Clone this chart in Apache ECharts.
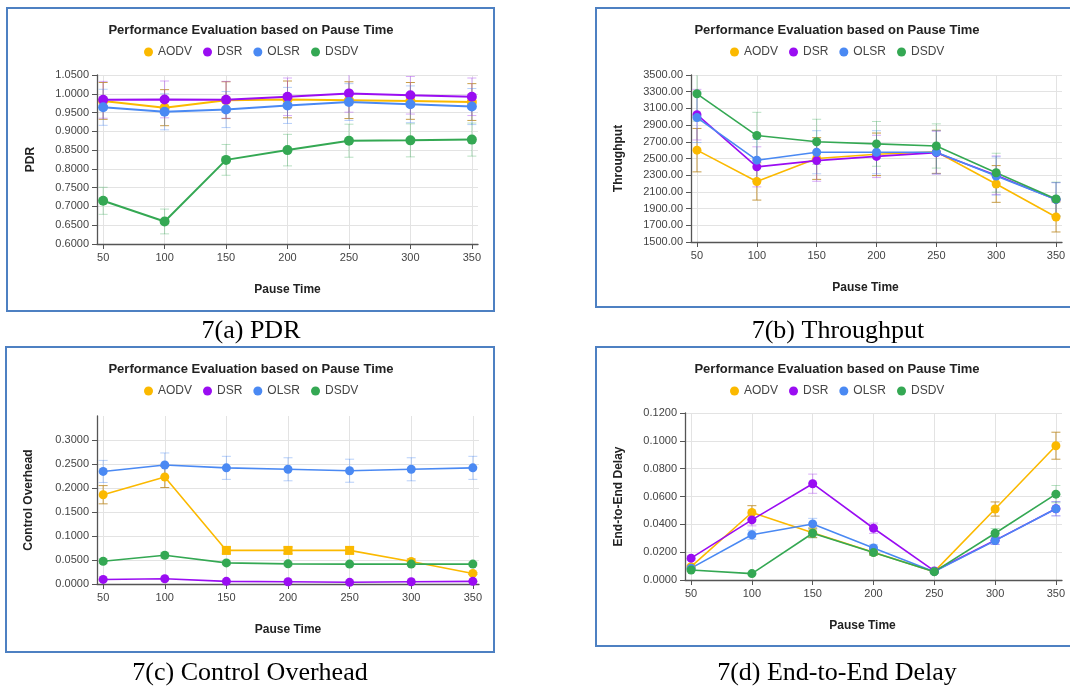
<!DOCTYPE html>
<html>
<head>
<meta charset="utf-8">
<script src="https://cdn.jsdelivr.net/npm/echarts@6/dist/echarts.min.js"></script>
<style>
html,body{margin:0;padding:0;background:#fff;}
#c{width:1070px;height:686px;}
</style>
</head>
<body>
<div id="c"></div>
<script>
// ---------------- DATA ----------------
const pauseTimes = [50, 100, 150, 200, 250, 300, 350];
const protocols = ['AODV', 'DSR', 'OLSR', 'DSDV'];

// 7(a) PDR
const pdrAODV = [0.981, 0.963, 0.983, 0.985, 0.983, 0.981, 0.978];
const pdrDSR  = [0.984, 0.985, 0.984, 0.992, 1.001, 0.996, 0.992];
const pdrOLSR = [0.964, 0.952, 0.958, 0.969, 0.978, 0.972, 0.966];
const pdrDSDV = [0.715, 0.660, 0.824, 0.850, 0.875, 0.876, 0.878];
const pdrAODVErr = [0.049, 0.048, 0.049, 0.049, 0.049, 0.049, 0.049];
const pdrDSRErr  = [0.049, 0.049, 0.049, 0.050, 0.050, 0.050, 0.050];
const pdrOLSRErr = [0.048, 0.048, 0.048, 0.048, 0.049, 0.049, 0.048];
const pdrDSDVErr = [0.036, 0.033, 0.041, 0.042, 0.044, 0.044, 0.044];

// 7(b) Throughput
const thrAODV = [2600, 2225, 2500, 2550, 2580, 2195, 1800];
const thrDSR  = [3025, 2400, 2475, 2525, 2570, 2300, 2010];
const thrOLSR = [2990, 2480, 2575, 2575, 2575, 2290, 2010];
const thrDSDV = [3275, 2775, 2700, 2675, 2650, 2330, 2015];
const thrAODVErr = [260, 223, 250, 255, 258, 220, 180];
const thrDSRErr  = [303, 240, 248, 253, 257, 230, 201];
const thrOLSRErr = [299, 248, 258, 258, 258, 229, 201];
const thrDSDVErr = [328, 278, 270, 268, 265, 233, 202];

// 7(c) Control Overhead
const coAODV = [0.186, 0.223, 0.070, 0.070, 0.070, 0.047, 0.022];
const coDSR  = [0.0095, 0.011, 0.0055, 0.0048, 0.0035, 0.0048, 0.0055];
const coOLSR = [0.2345, 0.248, 0.242, 0.239, 0.236, 0.239, 0.242];
const coDSDV = [0.0475, 0.060, 0.044, 0.042, 0.0415, 0.0415, 0.0415];
const coAODVErr = [0.019, 0.022, 0.007, 0.007, 0.007, 0.005, 0.002];
const coDSRErr  = [0.001, 0.001, 0.0006, 0.0005, 0.0004, 0.0005, 0.0006];
const coOLSRErr = [0.023, 0.025, 0.024, 0.024, 0.024, 0.024, 0.024];
const coDSDVErr = [0.005, 0.006, 0.004, 0.004, 0.004, 0.004, 0.004];

// 7(d) End-to-End Delay
const delAODV = [0.0096, 0.0485, 0.0340, 0.0200, 0.0060, 0.0510, 0.0965];
const delDSR  = [0.0157, 0.0432, 0.0692, 0.0372, 0.0065, 0.0285, 0.0512];
const delOLSR = [0.0085, 0.0325, 0.0403, 0.0230, 0.0060, 0.0283, 0.0512];
const delDSDV = [0.0072, 0.0046, 0.0336, 0.0197, 0.0060, 0.0336, 0.0617];
const delAODVErr = [0.0010, 0.0049, 0.0034, 0.0020, 0.0006, 0.0051, 0.0097];
const delDSRErr  = [0.0016, 0.0043, 0.0069, 0.0037, 0.0007, 0.0029, 0.0051];
const delOLSRErr = [0.0009, 0.0033, 0.0040, 0.0023, 0.0006, 0.0028, 0.0051];
const delDSDVErr = [0.0007, 0.0005, 0.0034, 0.0020, 0.0006, 0.0034, 0.0062];

// tick labels of the control-overhead axis (top of axis is unlabelled)
const coTicks = [0, 0.05, 0.10, 0.15, 0.20, 0.25, 0.30];

const chartTitle = 'Performance Evaluation based on Pause Time';
const xName = 'Pause Time';
const captions = ['7(a) PDR', '7(b) Throughput', '7(c) Control Overhead', '7(d) End-to-End Delay'];

// ---------------- STYLE / LAYOUT ----------------
const colors = ['#fbb900', '#9a0df2', '#4a89f3', '#34a853'];
const errColors = ['rgba(190,140,40,0.85)', 'rgba(170,70,240,0.45)', 'rgba(74,137,243,0.40)', 'rgba(52,168,83,0.35)'];
const coAODVSymbols = ['circle', 'circle', 'rect', 'rect', 'rect', 'circle', 'circle'];
const FONT = '"Liberation Sans", Arial, sans-serif';

const panels = [
  { grid: {left: 97, top: 75, width: 381, height: 169}, cx: 251, titleY: 30, legendTop: 46,
    yName: 'PDR', yGap: 60, ymin: 0.6, ymax: 1.05, yint: 0.05, dec: 4, namePadX: 0,
    vals: [pdrAODV, pdrDSR, pdrOLSR, pdrDSDV], errs: [pdrAODVErr, pdrDSRErr, pdrOLSRErr, pdrDSDVErr] },
  { grid: {left: 691, top: 75, width: 371, height: 167}, cx: 837, titleY: 30, legendTop: 46,
    yName: 'Throughput', yGap: 66, ymin: 1500, ymax: 3500, yint: 200, dec: 2, namePadX: 22,
    vals: [thrAODV, thrDSR, thrOLSR, thrDSDV], errs: [thrAODVErr, thrDSRErr, thrOLSRErr, thrDSDVErr] },
  { grid: {left: 97, top: 416, width: 382, height: 168}, cx: 251, titleY: 369, legendTop: 385,
    yName: 'Control Overhead', yGap: 62, ymin: 0, ymax: 0.35, yint: 0.05, dec: 4, namePadX: 0, custom: coTicks,
    vals: [coAODV, coDSR, coOLSR, coDSDV], errs: [coAODVErr, coDSRErr, coOLSRErr, coDSDVErr] },
  { grid: {left: 685, top: 413, width: 377, height: 167}, cx: 837, titleY: 369, legendTop: 385,
    yName: 'End-to-End Delay', yGap: 60, ymin: 0, ymax: 0.12, yint: 0.02, dec: 4, namePadX: 22,
    vals: [delAODV, delDSR, delOLSR, delDSDV], errs: [delAODVErr, delDSRErr, delOLSRErr, delDSDVErr] }
];

const boxes = [
  {x: 7, y: 8, w: 487, h: 303},
  {x: 596, y: 8, w: 480, h: 299},
  {x: 6, y: 347, w: 488, h: 305},
  {x: 596, y: 347, w: 480, h: 299}
];
const captionPos = [[251, 331], [838, 331], [250, 673], [837, 673]];

// ---------------- BUILD ----------------
function makeErrRender(color) {
  return function (params, api) {
    const x = api.value(0), y = api.value(1), e = api.value(2);
    const cs = params.coordSys;
    const top = api.coord([x, y + e]);
    const bot = api.coord([x, y - e]);
    const cx = top[0];
    const y1 = Math.max(cs.y, top[1]);
    const y2 = Math.min(cs.y + cs.height, bot[1]);
    const st = {stroke: color, lineWidth: 1, fill: null};
    const ch = [{type: 'line', shape: {x1: cx, y1: y1, x2: cx, y2: y2}, style: st}];
    const hw = 4.5;
    if (top[1] >= cs.y) ch.push({type: 'line', shape: {x1: cx - hw, y1: top[1], x2: cx + hw, y2: top[1]}, style: st});
    if (bot[1] <= cs.y + cs.height) ch.push({type: 'line', shape: {x1: cx - hw, y1: bot[1], x2: cx + hw, y2: bot[1]}, style: st});
    return {type: 'group', children: ch};
  };
}

const grid = [], xAxis = [], yAxis = [], legend = [], series = [], graphic = [];

panels.forEach((p, k) => {
  grid.push(Object.assign({outerBoundsMode: 'none', containLabel: false}, p.grid));
  xAxis.push({
    type: 'value', gridIndex: k, min: 45, max: 355,
    name: xName, nameLocation: 'middle', nameGap: 40,
    nameTextStyle: {fontFamily: FONT, fontSize: 12, fontWeight: 'bold', color: '#222', padding: [0, p.namePadX, 0, 0]},
    axisLine: {show: true, lineStyle: {color: '#555', width: 1.3}},
    axisTick: {show: true, length: 5, customValues: pauseTimes, lineStyle: {color: '#555'}},
    axisLabel: {customValues: pauseTimes, margin: 8, fontFamily: FONT, fontSize: 11, color: '#444'},
    splitLine: {show: true, lineStyle: {color: '#e3e3e3', width: 1}}
  });
  const ya = {
    type: 'value', gridIndex: k, min: p.ymin, max: p.ymax, interval: p.yint,
    name: p.yName, nameLocation: 'middle', nameGap: p.yGap,
    nameTextStyle: {fontFamily: FONT, fontSize: 12, fontWeight: 'bold', color: '#222'},
    axisLine: {show: true, lineStyle: {color: '#555', width: 1.3}},
    axisTick: {show: true, length: 5, lineStyle: {color: '#555'}},
    axisLabel: {margin: 8, fontFamily: FONT, fontSize: 11, color: '#444',
      formatter: v => Number(v).toFixed(p.dec)},
    splitLine: {show: true, lineStyle: {color: '#e3e3e3', width: 1}}
  };
  if (p.custom) {
    ya.axisTick.customValues = p.custom;
    ya.axisLabel.customValues = p.custom;
  }
  yAxis.push(ya);
  legend.push({
    data: protocols, left: p.cx - 107, top: p.legendTop, padding: 0,
    icon: 'circle', itemWidth: 9, itemHeight: 9, itemGap: 11,
    textStyle: {fontFamily: FONT, fontSize: 12, color: '#444'},
    selectedMode: false
  });
  protocols.forEach((name, i) => {
    series.push({
      type: 'custom', name: name + ' error', xAxisIndex: k, yAxisIndex: k, z: 1,
      renderItem: makeErrRender(errColors[i]),
      encode: {x: 0, y: 1},
      data: pauseTimes.map((t, j) => [t, p.vals[i][j], p.errs[i][j]]),
      silent: true
    });
  });
  protocols.forEach((name, i) => {
    const data = pauseTimes.map((t, j) => {
      const item = {value: [t, p.vals[i][j]]};
      if (k === 2 && i === 0) item.symbol = coAODVSymbols[j];
      return item;
    });
    series.push({
      type: 'line', name: name, xAxisIndex: k, yAxisIndex: k, z: 3,
      data: data, symbol: 'circle', symbolSize: k === 0 ? 10 : 9, showAllSymbol: true,
      color: colors[i],
      lineStyle: {width: k === 0 ? 2 : 1.6, color: colors[i]},
      itemStyle: {color: colors[i]},
      emphasis: {disabled: true},
      animation: false
    });
  });
  graphic.push({
    type: 'text', left: null, x: p.cx, y: p.titleY, silent: true,
    style: {text: chartTitle, x: 0, y: 0, textAlign: 'center', textVerticalAlign: 'middle',
      font: 'bold 13px ' + FONT, fill: '#222'}
  });
});

boxes.forEach(b => {
  graphic.push({
    type: 'rect', silent: true, z: 0,
    shape: {x: b.x, y: b.y, width: b.w, height: b.h},
    style: {fill: null, stroke: '#4d80c2', lineWidth: 2}
  });
});
captions.forEach((c, i) => {
  graphic.push({
    type: 'text', x: captionPos[i][0], y: captionPos[i][1], silent: true,
    style: {text: c, x: 0, y: 0, textAlign: 'center', textVerticalAlign: 'middle',
      font: '26px "Liberation Serif", "Times New Roman", serif', fill: '#000'}
  });
});

const chart = echarts.init(document.getElementById('c'));
chart.setOption({
  backgroundColor: '#ffffff',
  animation: false,
  grid, xAxis, yAxis, legend, series, graphic
});
</script>
</body>
</html>
